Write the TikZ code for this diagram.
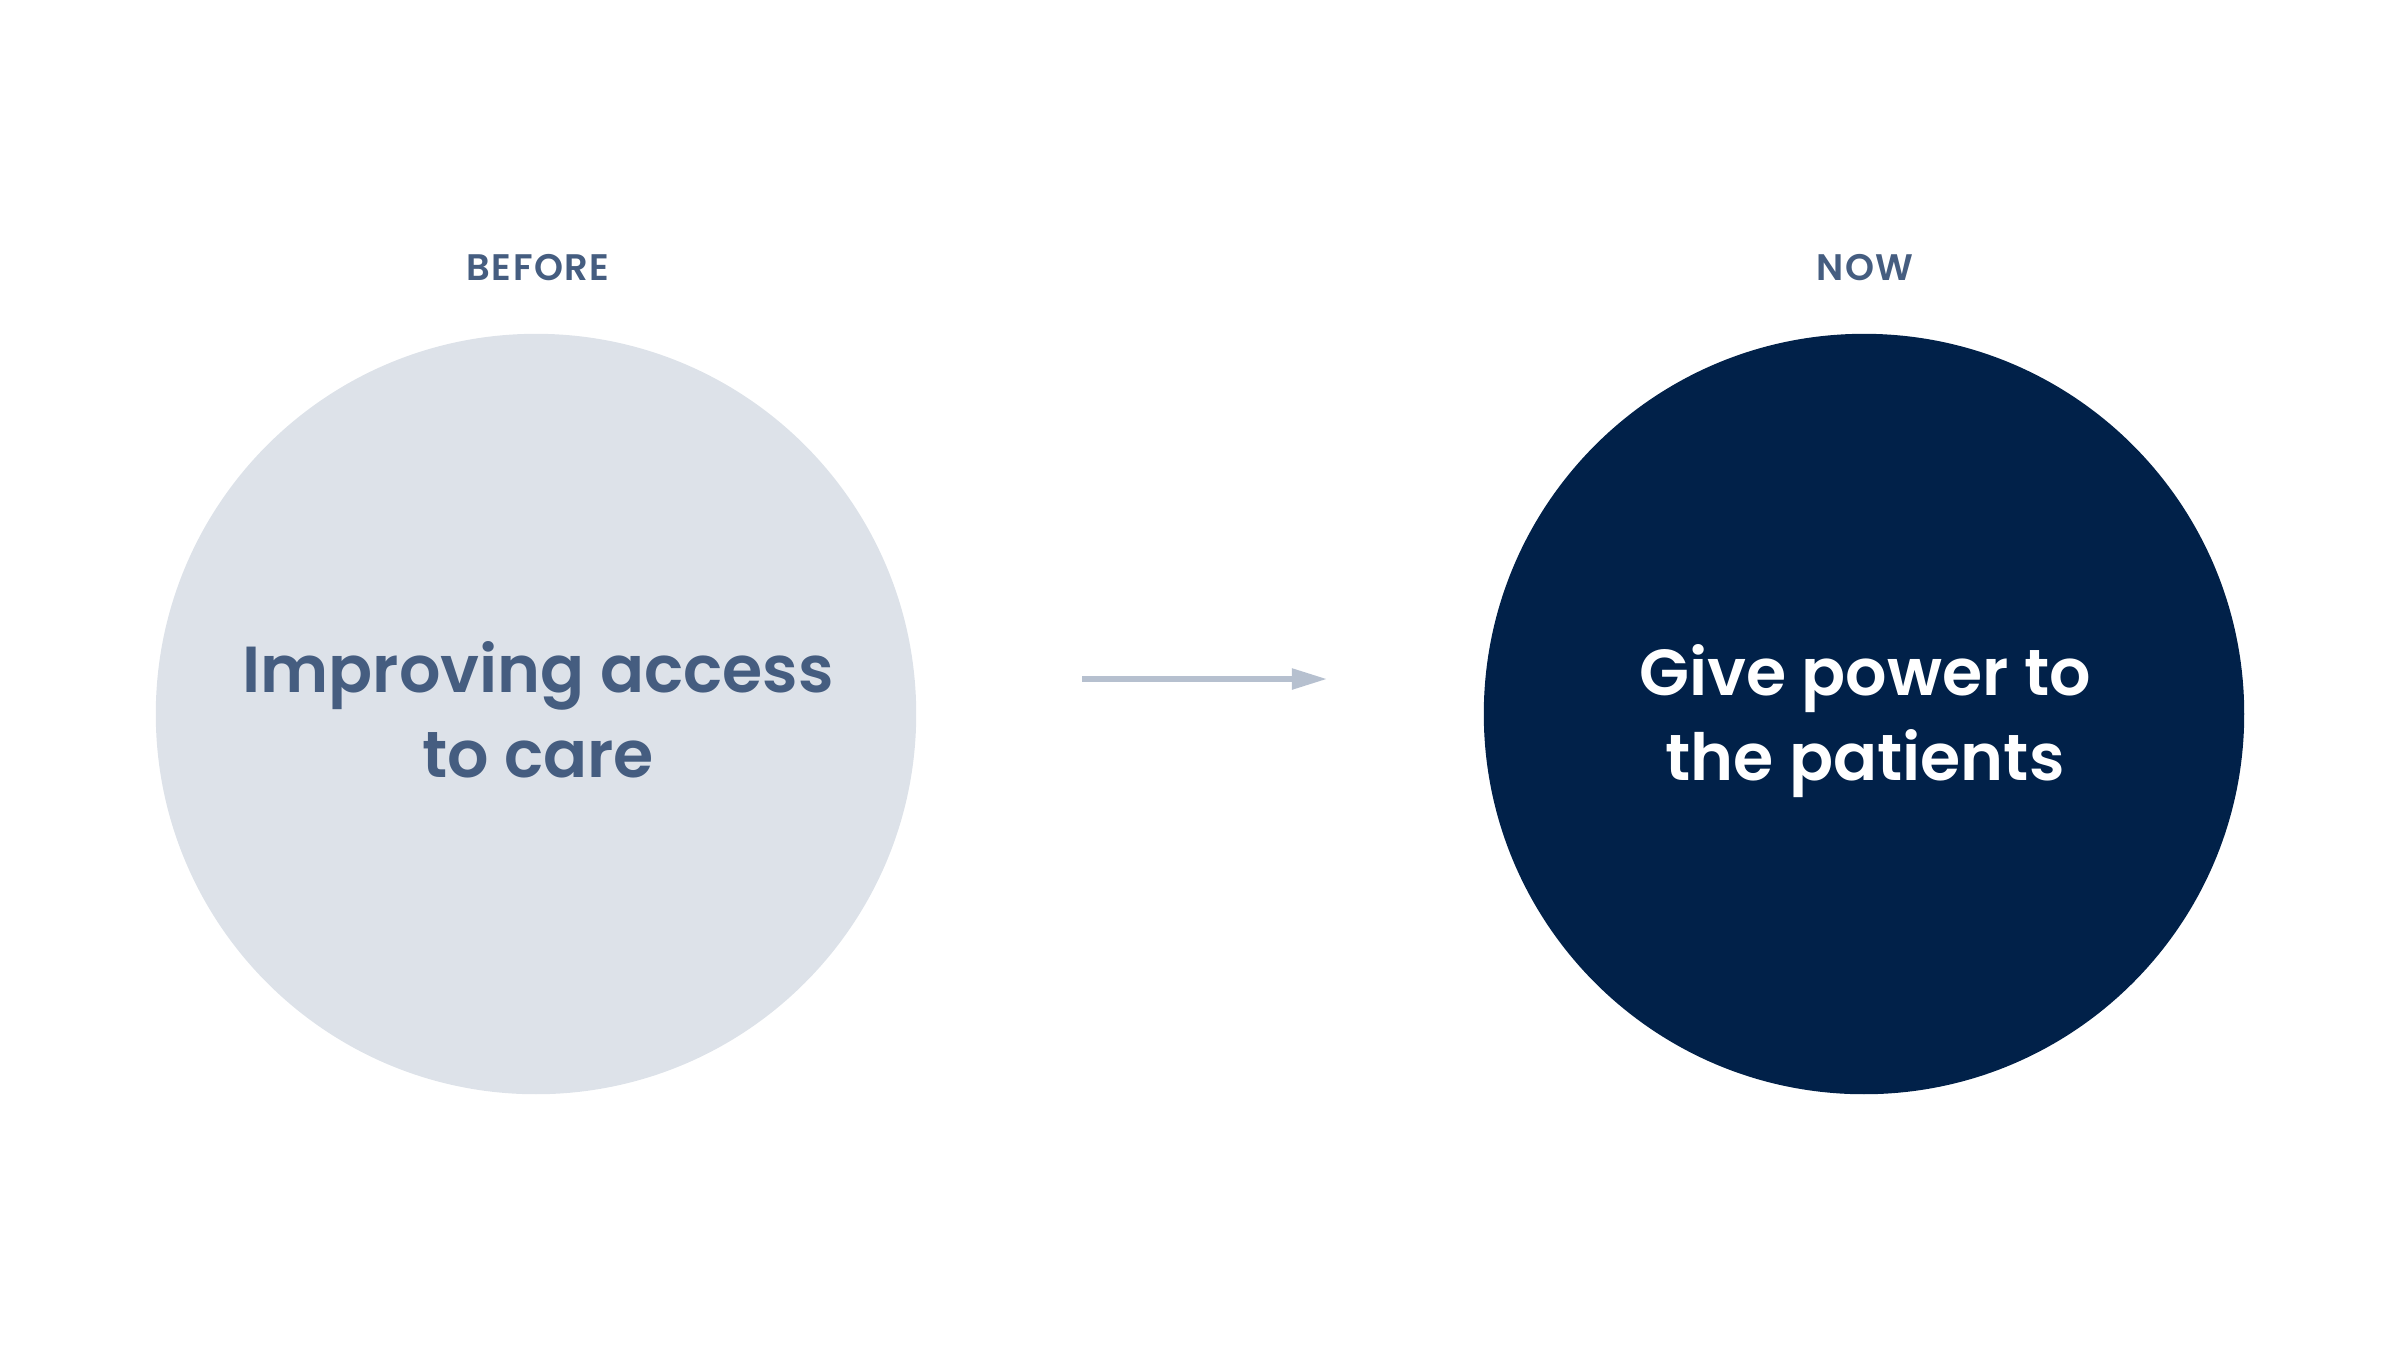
\documentclass[tikz,border=0pt]{standalone}
\usepackage{fontspec}
\setmainfont{Poppins}[BoldFont={Poppins SemiBold}]
\usetikzlibrary{arrows.meta,positioning}
\definecolor{slate}{HTML}{455D80}
\definecolor{mist}{HTML}{DDE2E9}
\definecolor{navy}{HTML}{012149}
\definecolor{arrowgray}{HTML}{B6C0CF}
\tikzset{
  bubble/.style={circle,inner sep=0pt,minimum size=7.6cm},
  heading/.style={text=slate,font=\bfseries\fontsize{10.5}{12}\selectfont\addfontfeatures{LetterSpace=4}},
  claim/.style={align=center,font=\bfseries\fontsize{18.5}{24.2}\selectfont}
}
\begin{document}
\begin{tikzpicture}[x=0.01cm,y=-0.01cm]
	\useasboundingbox (0,0) rectangle (2400,1344); % edit here for the page
	\node[bubble,fill=mist] (before) at (536,714) {};
	\node[bubble,fill=navy] (now) at (1864,714) {};
	\node[heading] (beforelbl) at (538,268) {BEFORE};
	\node[heading] (nowlbl) at (1865,268) {NOW};
	\node[claim,text=slate] (beforetxt) at (538,710) {Improving access\\to care};
	\node[claim,text=white] (nowtxt) at (1865,721) {Give power to\\the patients};
	\coordinate (from) at (1082,679);
	\coordinate (to) at (1327,679);
	\draw[-{Triangle[length=0.35cm,width=0.2cm]},line width=0.053cm,arrowgray] (from) -- (to);
\end{tikzpicture}
\end{document}
